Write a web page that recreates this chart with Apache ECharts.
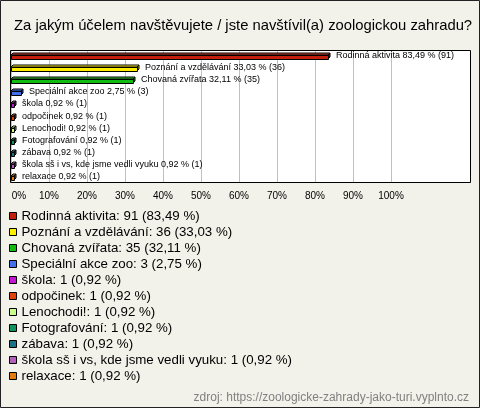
<!DOCTYPE html>
<html><head><meta charset="utf-8">
<script src="https://cdn.jsdelivr.net/npm/echarts@6/dist/echarts.min.js"></script>
<style>html,body{margin:0;padding:0;background:#f3f2ea}#c{width:480px;height:408px}</style>
</head><body><div id="c"></div>
<script>
const titleText = 'Za jakým účelem navštěvujete / jste navštívil(a) zoologickou zahradu?';
const sourceText = 'zdroj: https://zoologicke-zahrady-jako-turi.vyplnto.cz';
const categories = ['Rodinná aktivita','Poznání a vzdělávání','Chovaná zvířata','Speciální akce zoo','škola','odpočinek','Lenochodi!','Fotografování','zábava','škola sš i vs, kde jsme vedli vyuku','relaxace'];
const counts = [91,36,35,3,1,1,1,1,1,1,1];
const percents = [83.49,33.03,32.11,2.75,0.92,0.92,0.92,0.92,0.92,0.92,0.92];
const colors = ['#c41e0c','#ffee00','#12bb12','#4070ee','#c414d4','#e0400c','#c8ff90','#10925c','#1c7088','#b45ebe','#e07c10'];
const xTickValues = [0,10,20,30,40,50,60,70,80,90,100];

const fmt = v => v.toFixed(2).replace('.', ',');
const FONT = '"Liberation Sans", Arial, sans-serif';

function shade(hex, f) {
  const n = parseInt(hex.slice(1), 16);
  let r = (n >> 16) & 255, g = (n >> 8) & 255, b = n & 255;
  const m = c => Math.max(0, Math.min(255, Math.round(f > 0 ? c + (255 - c) * f : c * (1 + f))));
  return 'rgb(' + m(r) + ',' + m(g) + ',' + m(b) + ')';
}

const chart = echarts.init(document.getElementById('c'), null, {renderer: 'canvas'});

const series = categories.map((name, i) => ({
  type: 'custom',
  name: name,
  itemStyle: {color: colors[i]},
  encode: {x: 0, y: 1},
  data: [[percents[i], i]],
  z: 5,
  renderItem: function (params, api) {
    const v = api.value(0), idx = api.value(1);
    const a = api.coord([0, idx]), b = api.coord([v, idx]);
    const x0 = Math.round(a[0]), x1 = Math.round(b[0]) , c = Math.round(a[1]);
    const d = 2, top = c - 3, mid = c - 1, bot = c + 3;
    const col = colors[i];
    const stroke = {stroke: '#000', lineWidth: 1};
    const label = categories[i] + ' ' + fmt(percents[i]) + ' % (' + counts[i] + ')';
    return {
      type: 'group',
      children: [
        {type: 'polygon', shape: {points: [[x0, mid], [x0 + d, top], [x1 + d, top], [x1, mid]]}, style: Object.assign({fill: shade(col, 0.15)}, stroke)},
        {type: 'polygon', shape: {points: [[x1, mid], [x1 + d, top], [x1 + d, bot - d], [x1, bot]]}, style: Object.assign({fill: shade(col, -0.35)}, stroke)},
        {type: 'rect', shape: {x: x0 + 0.5, y: mid + 0.5, width: Math.max(1, x1 - x0), height: bot - mid}, style: Object.assign({fill: col}, stroke)},
        {type: 'text', style: {text: label, x: x1 + d + 6, y: c, verticalAlign: 'middle', align: 'left', fontSize: 9, fontFamily: FONT, fill: '#000'}}
      ]
    };
  }
}));

chart.setOption({
  backgroundColor: '#f3f2ea',
  animation: false,
  title: {
    text: titleText, left: 9, top: 13,
    textStyle: {fontSize: 14.8, fontWeight: 'normal', color: '#000', fontFamily: FONT}
  },
  grid: {left: 11, top: 50, width: 380, height: 133, containLabel: false},
  xAxis: {
    type: 'value', min: 0, max: 100, interval: 10,
    axisLine: {show: false}, axisTick: {show: false},
    splitLine: {show: true, lineStyle: {color: '#c0c0c0', width: 1}},
    axisLabel: {
      margin: 8, fontSize: 10, color: '#000', fontFamily: FONT,
      formatter: v => xTickValues.indexOf(v) === 0 ? '{z|' + v + '%}' : v + '%',
      rich: {z: {fontSize: 10, fontFamily: FONT, color: '#000', padding: [0, 0, 0, 16]}}
    }
  },
  yAxis: {type: 'category', inverse: true, data: categories, show: false},
  legend: {
    orient: 'vertical', left: 9, top: 208, padding: 0, itemWidth: 7, itemHeight: 7, itemGap: 0,
    icon: 'rect', selectedMode: false,
    itemStyle: {borderColor: '#000', borderWidth: 1},
    textStyle: {fontSize: 13.3, color: '#000', fontFamily: FONT, lineHeight: 16},
    formatter: name => {
      const i = categories.indexOf(name);
      return name + ': ' + counts[i] + ' (' + fmt(percents[i]) + ' %)';
    },
    data: categories
  },
  graphic: [
    {type: 'rect', z: -10, shape: {x: 10.5, y: 50.5, width: 460, height: 132}, style: {fill: '#ffffff', stroke: 'none'}},
    {type: 'rect', z: 100, shape: {x: 10.5, y: 50.5, width: 460, height: 132}, style: {fill: 'none', stroke: '#000', lineWidth: 1}},
    {type: 'rect', z: 100, shape: {x: 0.5, y: 0.5, width: 479, height: 407}, style: {fill: 'none', stroke: '#222', lineWidth: 1}},
    {type: 'text', z: 100, right: 11, top: 392, style: {text: sourceText, fontSize: 12, fontFamily: FONT, fill: '#808080'}}
  ],
  series: series
});
</script></body></html>
